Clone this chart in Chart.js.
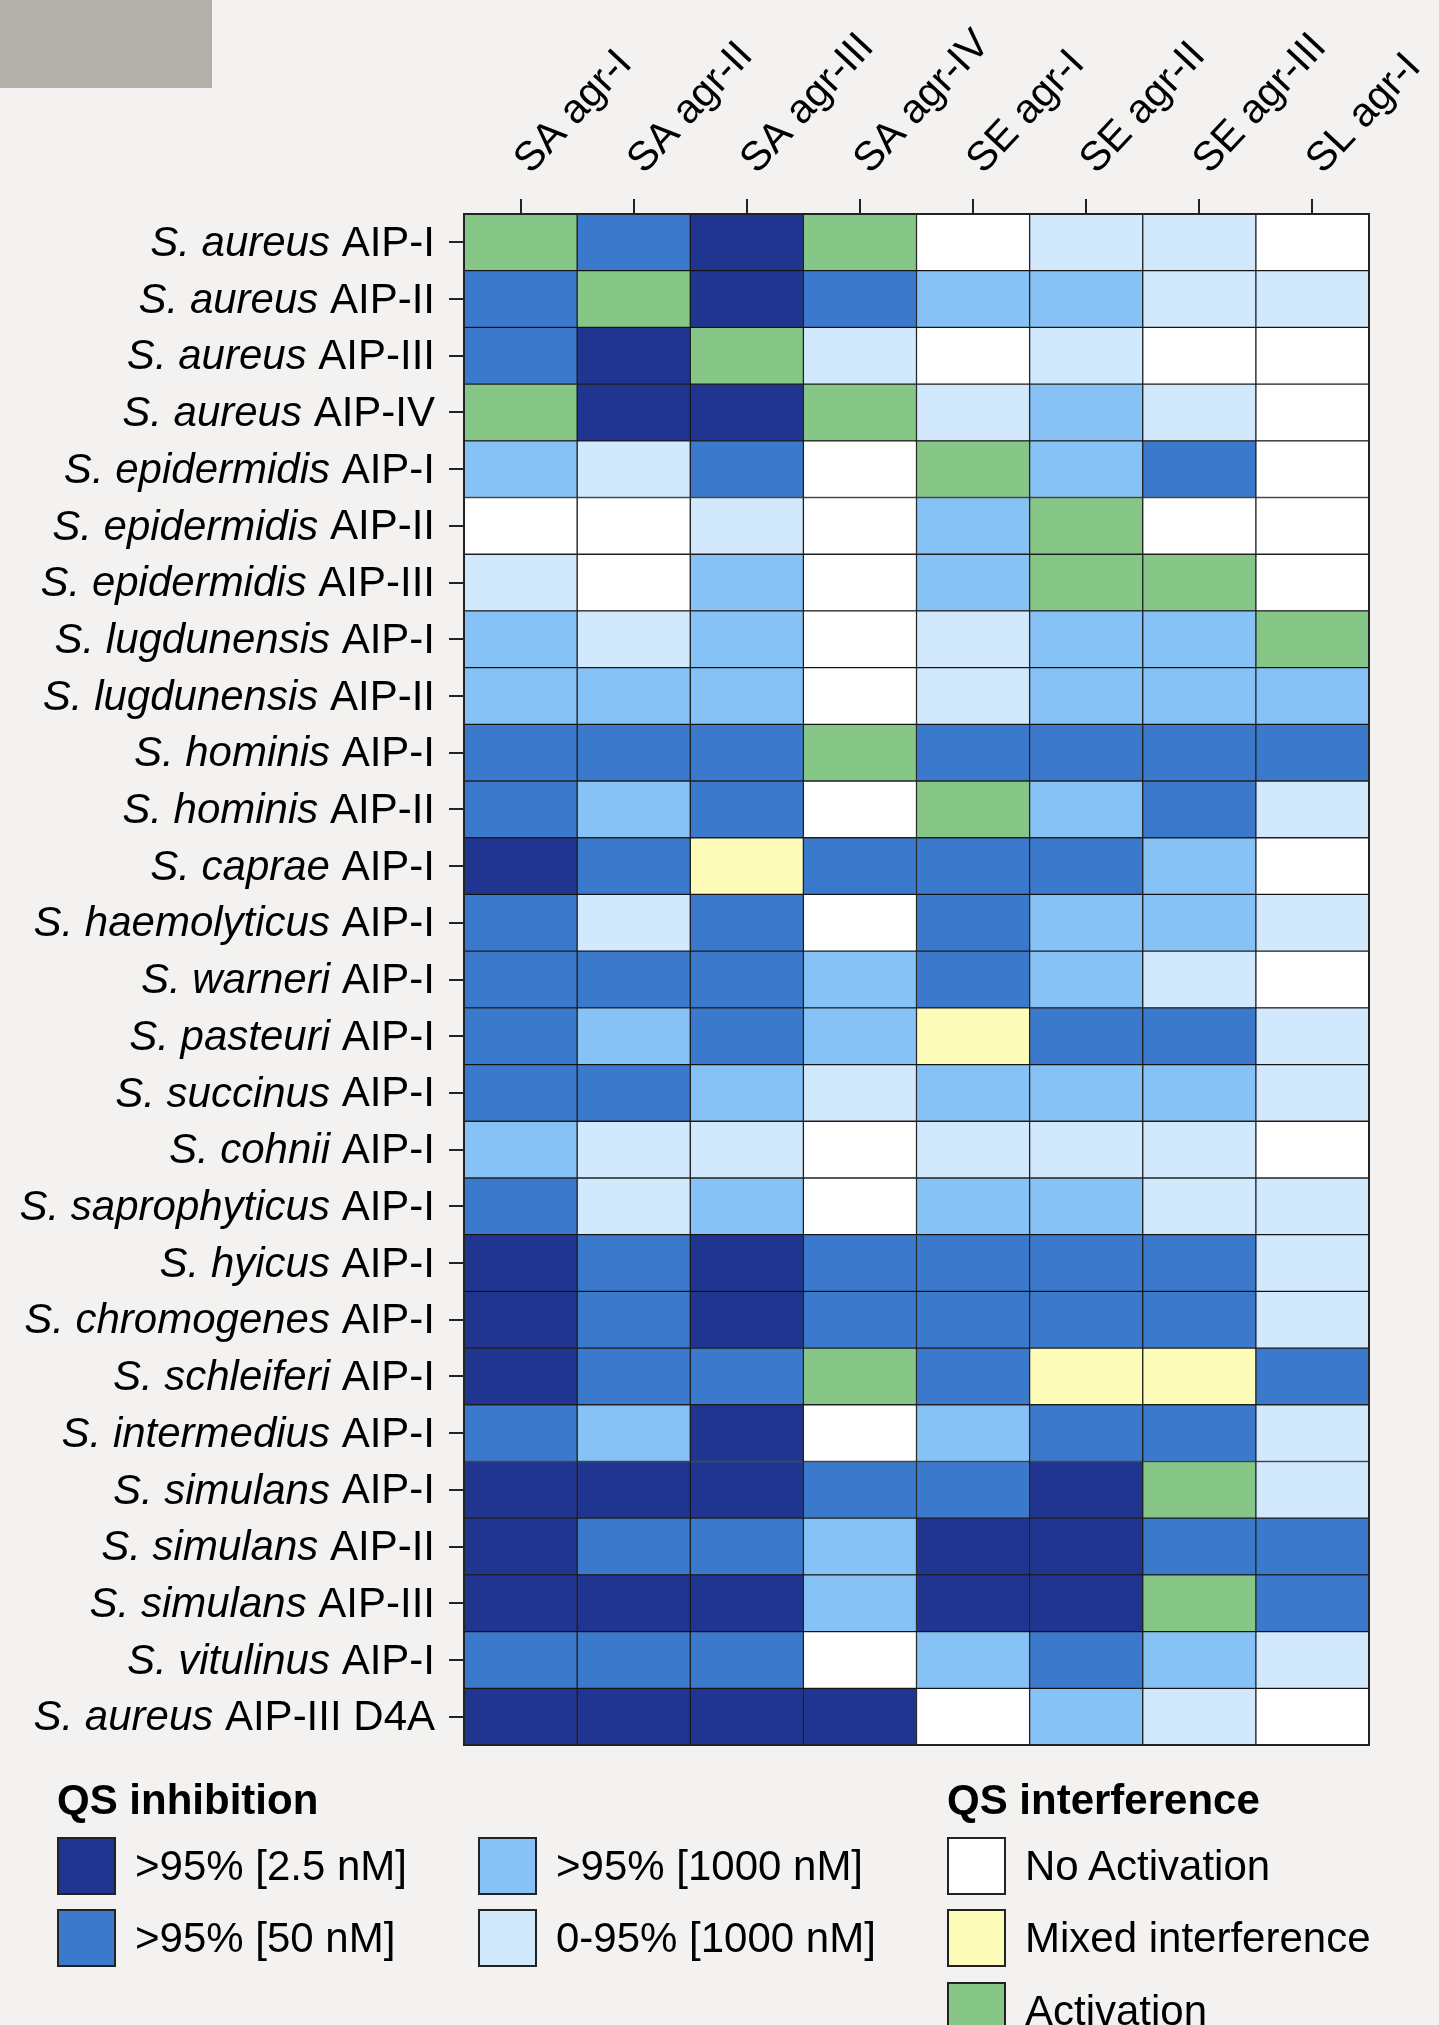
<!DOCTYPE html>
<html>
<head>
<meta charset="utf-8">
<script src="https://cdn.jsdelivr.net/npm/chart.js@4.4.1/dist/chart.umd.min.js"></script>
<style>
html,body{margin:0;padding:0;background:#f3f2f0;width:1439px;height:2025px;overflow:hidden;}
#wrap{position:relative;width:1439px;height:2025px;font-family:"Liberation Sans",Arial,sans-serif;color:#000;}
#chart{position:absolute;left:0;top:0;}
.gray{position:absolute;left:0;top:0;width:212px;height:88px;background:#b1b1aa;}
.lgtitle{position:absolute;font-weight:bold;font-size:42px;line-height:42px;white-space:nowrap;}
.sw{position:absolute;width:55px;height:54px;border:2px solid #222;}
.lt{position:absolute;font-size:42px;line-height:42px;white-space:nowrap;}
</style>
</head>
<body>
<div id="wrap">
  <div class="gray"></div>
  <canvas id="chart" width="1439" height="2025"></canvas>
  <div id="legend"></div>
</div>
<script>
// Column (reporter strain) labels
const colLabels = ['SA agr-I','SA agr-II','SA agr-III','SA agr-IV','SE agr-I','SE agr-II','SE agr-III','SL agr-I'];

// Row labels: species (italic) + peptide
const rowSpecies = ['S. aureus','S. aureus','S. aureus','S. aureus','S. epidermidis','S. epidermidis','S. epidermidis',
  'S. lugdunensis','S. lugdunensis','S. hominis','S. hominis','S. caprae','S. haemolyticus','S. warneri','S. pasteuri',
  'S. succinus','S. cohnii','S. saprophyticus','S. hyicus','S. chromogenes','S. schleiferi','S. intermedius',
  'S. simulans','S. simulans','S. simulans','S. vitulinus','S. aureus'];
const rowPeptide = ['AIP-I','AIP-II','AIP-III','AIP-IV','AIP-I','AIP-II','AIP-III','AIP-I','AIP-II','AIP-I','AIP-II',
  'AIP-I','AIP-I','AIP-I','AIP-I','AIP-I','AIP-I','AIP-I','AIP-I','AIP-I','AIP-I','AIP-I','AIP-I','AIP-II','AIP-III',
  'AIP-I','AIP-III D4A'];

// Outcome categories
const levelCodes  = ['N','B','L','P','W','Y','G'];
const levelNames  = ['>95% [2.5 nM]','>95% [50 nM]','>95% [1000 nM]','0-95% [1000 nM]','No Activation','Mixed interference','Activation'];
const levelColors = ['#1f3590','#3b79cc','#86c2f5','#d2e8fc','#ffffff','#fcfcb8','#86c686'];

// Cell outcome codes, one row per peptide, one entry per column
const cellCodes = [
  ['G','B','N','G','W','P','P','W'],
  ['B','G','N','B','L','L','P','P'],
  ['B','N','G','P','W','P','W','W'],
  ['G','N','N','G','P','L','P','W'],
  ['L','P','B','W','G','L','B','W'],
  ['W','W','P','W','L','G','W','W'],
  ['P','W','L','W','L','G','G','W'],
  ['L','P','L','W','P','L','L','G'],
  ['L','L','L','W','P','L','L','L'],
  ['B','B','B','G','B','B','B','B'],
  ['B','L','B','W','G','L','B','P'],
  ['N','B','Y','B','B','B','L','W'],
  ['B','P','B','W','B','L','L','P'],
  ['B','B','B','L','B','L','P','W'],
  ['B','L','B','L','Y','B','B','P'],
  ['B','B','L','P','L','L','L','P'],
  ['L','P','P','W','P','P','P','W'],
  ['B','P','L','W','L','L','P','P'],
  ['N','B','N','B','B','B','B','P'],
  ['N','B','N','B','B','B','B','P'],
  ['N','B','B','G','B','Y','Y','B'],
  ['B','L','N','W','L','B','B','P'],
  ['N','N','N','B','B','N','G','P'],
  ['N','B','B','L','N','N','B','B'],
  ['N','N','N','L','N','N','G','B'],
  ['B','B','B','W','L','B','L','P'],
  ['N','N','N','N','W','L','P','W']
];

const rowLabels = rowSpecies.map((s, i) => s + ' ' + rowPeptide[i]);
const colorOf = code => levelColors[levelCodes.indexOf(code)];

const datasets = colLabels.map((name, c) => ({
  label: name,
  data: cellCodes.map(() => [c, c + 1]),
  backgroundColor: cellCodes.map(r => colorOf(r[c])),
  borderColor: 'rgba(0,0,0,0.85)',
  borderWidth: 1,
  borderSkipped: false,
  grouped: false,
  barPercentage: 1,
  categoryPercentage: 1
}));

const yLabelPlugin = {
  id: 'yLabels',
  afterDraw(chart) {
    const ctx = chart.ctx, ys = chart.scales.y, area = chart.chartArea;
    const xRight = area.left - 15 - 14;
    ctx.save();
    ctx.fillStyle = '#000';
    ctx.textBaseline = 'middle';
    ctx.textAlign = 'right';
    rowSpecies.forEach((sp, i) => {
      const y = ys.getPixelForValue(i) + 2;
      ctx.font = '42px "Liberation Sans"';
      const pep = rowPeptide[i];
      const wPep = ctx.measureText(' ' + pep).width;
      ctx.fillText(' ' + pep, xRight, y);
      ctx.font = 'italic 42px "Liberation Sans"';
      ctx.fillText(sp, xRight - wPep, y);
    });
    ctx.restore();
  }
};

const framePlugin = {
  id: 'frame',
  afterDatasetsDraw(chart) {
    const ctx = chart.ctx, a = chart.chartArea;
    ctx.save();
    ctx.strokeStyle = '#222';
    ctx.lineWidth = 2;
    ctx.strokeRect(a.left, a.top, a.right - a.left, a.bottom - a.top);
    ctx.restore();
  }
};

new Chart(document.getElementById('chart'), {
  type: 'bar',
  data: { labels: rowLabels, datasets },
  options: {
    indexAxis: 'y',
    responsive: false,
    animation: false,
    layout: { padding: { left: 0, top: 0, right: 70, bottom: 280 } },
    plugins: { legend: { display: false }, tooltip: { enabled: false } },
    scales: {
      x: {
        type: 'linear', position: 'top', min: 0, max: 8,
        afterBuildTicks: s => { s.ticks = colLabels.map((_, i) => ({ value: i + 0.5 })); },
        afterFit: s => { s.height = 214; s.paddingLeft = 0; s.paddingRight = 0; },
        ticks: {
          callback: v => colLabels[Math.floor(v)],
          autoSkip: false, maxRotation: 47, minRotation: 47, padding: 15, labelOffset: 38,
          color: '#000', font: { family: 'Liberation Sans', size: 41 }
        },
        grid: { drawOnChartArea: false, drawTicks: true, tickLength: 15, color: '#222', lineWidth: 2 },
        border: { display: false }
      },
      y: {
        type: 'category', offset: true,
        afterFit: s => { s.width = 464; s.paddingTop = 0; s.paddingBottom = 0; },
        ticks: { callback: () => '', autoSkip: false },
        grid: { drawOnChartArea: false, drawTicks: true, tickLength: 15, color: '#222', lineWidth: 2, offset: false },
        border: { display: false }
      }
    }
  },
  plugins: [yLabelPlugin, framePlugin]
});

// Legend (HTML text)
const legend = document.getElementById('legend');
const legendGroups = [
  { title: 'QS inhibition', x: 57, items: [[0, 57, 0], [1, 57, 1], [2, 478, 0], [3, 478, 1]] },
  { title: 'QS interference', x: 947, items: [[4, 947, 0], [5, 947, 1], [6, 947, 2]] }
];
const rowTops = [1837, 1909, 1982];
legendGroups.forEach(g => {
  const t = document.createElement('div');
  t.className = 'lgtitle';
  t.style.left = g.x + 'px';
  t.style.top = '1779px';
  t.textContent = g.title;
  legend.appendChild(t);
  g.items.forEach(([lvl, x, r]) => {
    const sw = document.createElement('div');
    sw.className = 'sw';
    sw.style.left = x + 'px';
    sw.style.top = rowTops[r] + 'px';
    sw.style.background = levelColors[lvl];
    legend.appendChild(sw);
    const tx = document.createElement('div');
    tx.className = 'lt';
    tx.style.left = (x + 78) + 'px';
    tx.style.top = (rowTops[r] + 8) + 'px';
    tx.textContent = levelNames[lvl];
    legend.appendChild(tx);
  });
});
</script>
</body>
</html>
